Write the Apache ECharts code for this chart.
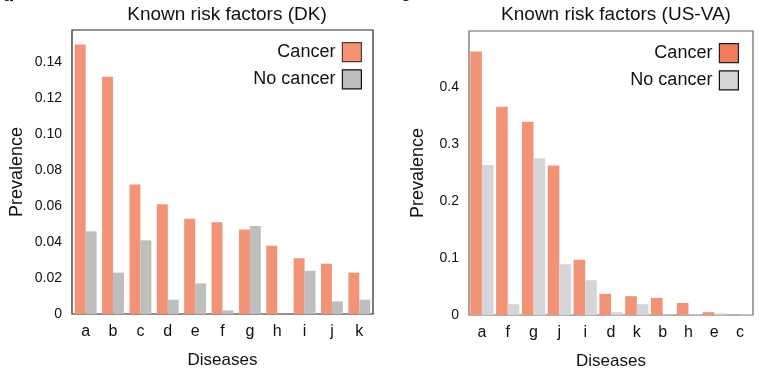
<!DOCTYPE html>
<html>
<head>
<meta charset="utf-8">
<script src="https://cdn.jsdelivr.net/npm/echarts@6/dist/echarts.min.js"></script>
<style>
  html, body { margin: 0; padding: 0; background: #fff; }
  #main { width: 782px; height: 376px; }
</style>
</head>
<body>
<div id="main"></div>
<script>
// DK panel
var dkDiseases = ['a', 'b', 'c', 'd', 'e', 'f', 'g', 'h', 'i', 'j', 'k'];
var dkCancer = [0.150, 0.132, 0.072, 0.061, 0.053, 0.051, 0.047, 0.038, 0.031, 0.028, 0.023];
var dkNoCancer = [0.046, 0.023, 0.041, 0.008, 0.017, 0.002, 0.049, 0, 0.024, 0.007, 0.008];

// US-VA panel
var vaDiseases = ['a', 'f', 'g', 'j', 'i', 'd', 'k', 'b', 'h', 'e', 'c'];
var vaCancer = [0.462, 0.365, 0.339, 0.262, 0.097, 0.037, 0.033, 0.030, 0.021, 0.005, 0.001];
var vaNoCancer = [0.263, 0.019, 0.275, 0.089, 0.061, 0.005, 0.019, 0.001, 0.001, 0.003, 0.001];

var font = 'Liberation Sans, Arial, sans-serif';
var salmon = '#f29377';
var salmonDark = '#f07d5c';
var greyDK = '#bebebf';
var greyVA = '#d5d5d7';

var dom = document.getElementById('main');
var myChart = echarts.init(dom, null, { renderer: 'canvas' });

function yAxisCfg(gridIndex, max, interval, decimals, gap) {
  return {
    type: 'value',
    gridIndex: gridIndex,
    min: 0,
    max: max,
    interval: interval,
    name: 'Prevalence',
    nameLocation: 'middle',
    nameGap: gap,
    nameTextStyle: { fontFamily: font, fontSize: 18, color: '#111' },
    axisLine: { show: false },
    axisTick: { show: false },
    splitLine: { show: false },
    axisLabel: {
      showMaxLabel: false,
      margin: 10,
      fontFamily: font,
      fontSize: 14,
      color: '#111',
      padding: [3, 0, 0, 0],
      formatter: function (v) { return v === 0 ? '0' : v.toFixed(decimals); }
    }
  };
}

function xAxisCfg(gridIndex, cats) {
  return {
    type: 'category',
    gridIndex: gridIndex,
    data: cats,
    name: 'Diseases',
    nameLocation: 'middle',
    nameGap: 38,
    nameTextStyle: { fontFamily: font, fontSize: 17, color: '#111' },
    axisLine: { show: false },
    axisTick: { show: false },
    axisLabel: { margin: 10, fontFamily: font, fontSize: 16, color: '#111' }
  };
}

function legendCfg(right, top, cancerColor, noColor, border) {
  return {
    orient: 'vertical',
    right: right,
    top: top,
    align: 'right',
    itemWidth: 19,
    itemHeight: 19,
    itemGap: 7,
    selectedMode: false,
    textStyle: { fontFamily: font, fontSize: 18, color: '#111', padding: [0, 2, 0, 0] },
    data: [
      { name: 'Cancer', icon: 'rect', itemStyle: { color: cancerColor, borderColor: border, borderWidth: 1.2 } },
      { name: 'No cancer', icon: 'rect', itemStyle: { color: noColor, borderColor: '#111', borderWidth: 1.2 } }
    ]
  };
}

var option = {
  animation: false,
  backgroundColor: '#fff',
  title: [
    { text: 'Known risk factors (DK)', left: 222, top: 0, textAlign: 'center',
      textStyle: { fontFamily: font, fontSize: 19, fontWeight: 'normal', color: '#111' } },
    { text: 'Known risk factors (US-VA)', left: 611, top: 0, textAlign: 'center',
      textStyle: { fontFamily: font, fontSize: 19, fontWeight: 'normal', color: '#111' } }
  ],
  graphic: [
    { type: 'text', left: 2, top: -15, style: { text: 'd', font: 'bold 20px ' + font, fill: '#000' } },
    { type: 'text', left: 400, top: -15, style: { text: 'e', font: 'bold 20px ' + font, fill: '#000' } }
  ],
  legend: [
    legendCfg(415, 37, salmon, greyDK, '#5a3a30'),
    legendCfg(38, 38, salmonDark, greyVA, '#222')
  ],
  grid: [
    { left: 72, top: 30, width: 301, height: 284, show: true, borderColor: '#222', borderWidth: 1.2, backgroundColor: 'transparent' },
    { left: 469, top: 31, width: 284, height: 284, show: true, borderColor: '#666', borderWidth: 1.2, backgroundColor: 'transparent' }
  ],
  xAxis: [xAxisCfg(0, dkDiseases), xAxisCfg(1, vaDiseases)],
  yAxis: [yAxisCfg(0, 0.158, 0.02, 2, 46), yAxisCfg(1, 0.498, 0.1, 1, 42)],
  series: [
    { name: 'Cancer', type: 'bar', xAxisIndex: 0, yAxisIndex: 0, data: dkCancer,
      itemStyle: { color: salmon }, barGap: '0%', barCategoryGap: '20%' },
    { name: 'No cancer', type: 'bar', xAxisIndex: 0, yAxisIndex: 0, data: dkNoCancer,
      itemStyle: { color: greyDK }, barGap: '0%', barCategoryGap: '20%' },
    { name: 'Cancer', type: 'bar', xAxisIndex: 1, yAxisIndex: 1, data: vaCancer,
      itemStyle: { color: salmon }, barGap: '0%', barCategoryGap: '10%' },
    { name: 'No cancer', type: 'bar', xAxisIndex: 1, yAxisIndex: 1, data: vaNoCancer,
      itemStyle: { color: greyVA }, barGap: '0%', barCategoryGap: '10%' }
  ]
};

myChart.setOption(option);
window.addEventListener('resize', myChart.resize);
</script>
</body>
</html>
